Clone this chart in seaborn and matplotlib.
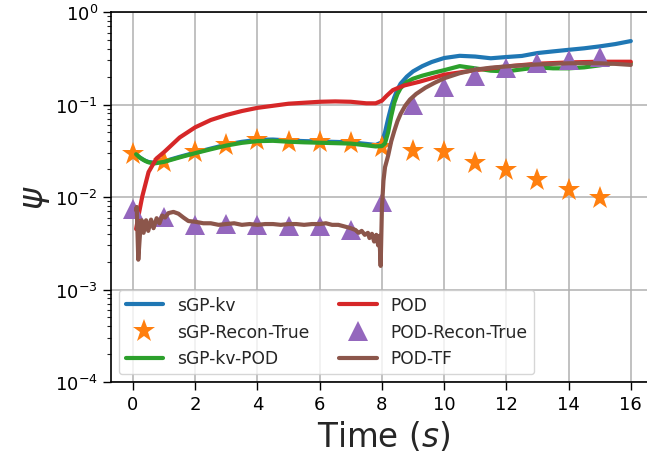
import matplotlib
matplotlib.use("Agg")
import matplotlib.pyplot as plt
import seaborn as sns
import numpy as np

# sGP-kv error history
t_sgp = [0.1, 0.2, 0.3, 0.4, 0.5, 0.7, 1.0, 1.5, 2.0, 2.5, 3.0, 3.5, 4.0, 4.5, 5.0,
         5.5, 6.0, 6.5, 7.0, 7.5, 7.8, 8.0, 8.1, 8.2, 8.3, 8.4, 8.5, 8.6, 8.8, 9.0,
         9.3, 9.6, 10.0, 10.5, 11.0, 11.5, 12.0, 12.5, 13.0, 13.5, 14.0, 14.5, 15.0,
         15.5, 16.0]
sgp_kv = [0.029, 0.027, 0.0257, 0.0246, 0.0239, 0.0234, 0.0243, 0.0272, 0.0302, 0.0334,
          0.0368, 0.0395, 0.0415, 0.0418, 0.0408, 0.0402, 0.0398, 0.0394, 0.0390, 0.0375,
          0.0365, 0.039, 0.05, 0.07, 0.095, 0.12, 0.145, 0.168, 0.2, 0.228, 0.26, 0.288,
          0.318, 0.336, 0.33, 0.316, 0.326, 0.335, 0.36, 0.375, 0.39, 0.405, 0.425, 0.45,
          0.485]

# sGP-kv-POD error history
sgp_kv_pod = [0.029, 0.027, 0.0256, 0.0245, 0.0237, 0.0231, 0.0240, 0.0268, 0.0298, 0.0328,
              0.0360, 0.0385, 0.0402, 0.0405, 0.0396, 0.0390, 0.0386, 0.0382, 0.0378, 0.0362,
              0.0352, 0.0355, 0.038, 0.05, 0.075, 0.105, 0.13, 0.15, 0.175, 0.19, 0.205,
              0.218, 0.235, 0.26, 0.246, 0.232, 0.228, 0.24, 0.252, 0.246, 0.246, 0.252,
              0.265, 0.283, 0.28]

# POD error history
t_pod = [0.1, 0.2, 0.3, 0.5, 0.75, 1.0, 1.5, 2.0, 2.5, 3.0, 3.5, 4.0, 5.0, 6.0, 6.5,
         7.0, 7.5, 7.8, 8.0, 8.15, 8.35, 8.7, 9.2, 10.0, 11.0, 12.0, 13.0, 14.0, 15.0, 16.0]
pod = [0.0045, 0.0069, 0.0102, 0.0186, 0.026, 0.0306, 0.044, 0.0567, 0.068, 0.077, 0.085,
       0.092, 0.102, 0.107, 0.108, 0.107, 0.103, 0.103, 0.110, 0.124, 0.143, 0.16, 0.176,
       0.21, 0.235, 0.258, 0.276, 0.285, 0.29, 0.29]

# POD-TF error history
t_tf = [0.10, 0.12, 0.17, 0.225, 0.28, 0.34, 0.42, 0.49, 0.58, 0.66, 0.76, 0.85, 0.94,
        1.03, 1.14, 1.3, 1.46, 1.62, 1.78, 2.0, 2.26, 2.5, 2.75, 3.0, 3.25, 3.5, 3.75,
        4.0, 4.25, 4.5, 4.75, 5.0, 5.25, 5.5, 5.75, 6.0, 6.2, 6.4, 6.6, 6.8, 7.0, 7.15,
        7.25, 7.35, 7.45, 7.55, 7.6, 7.68, 7.75, 7.82, 7.88, 7.92, 7.96, 8.0, 8.05, 8.1,
        8.2, 8.3, 8.4, 8.5, 8.6, 8.75, 8.9, 9.1, 9.4, 9.7, 10.0, 10.5, 11.0, 11.5, 12.0,
        12.5, 13.0, 13.5, 14.0, 14.5, 15.0, 15.5, 16.0]
pod_tf = [0.0072, 0.0078, 0.0021, 0.0040, 0.0056, 0.0041, 0.0056, 0.0043, 0.0057, 0.0046,
          0.0059, 0.0052, 0.0063, 0.0060, 0.0067, 0.0069, 0.0066, 0.0060, 0.0055, 0.0054,
          0.0052, 0.0052, 0.0050, 0.0051, 0.0052, 0.0050, 0.0051, 0.0050, 0.0051, 0.0051,
          0.0050, 0.0051, 0.0051, 0.0050, 0.0051, 0.0051, 0.0052, 0.0050, 0.0050, 0.0048,
          0.0046, 0.0044, 0.0041, 0.0043, 0.0039, 0.0041, 0.0036, 0.0040, 0.0033, 0.0039,
          0.0030, 0.0038, 0.0018, 0.0075, 0.015, 0.021, 0.028, 0.04, 0.052, 0.066, 0.079,
          0.097, 0.113, 0.13, 0.152, 0.172, 0.192, 0.218, 0.238, 0.25, 0.258, 0.265, 0.271,
          0.275, 0.279, 0.28, 0.279, 0.275, 0.268]

# Reconstruction against truth, sampled once per second
t_recon = [0, 1, 2, 3, 4, 5, 6, 7, 8, 9, 10, 11, 12, 13, 14, 15]
sgp_recon_true = [0.0292, 0.024, 0.0304, 0.0368, 0.0413, 0.0396, 0.039, 0.0383, 0.0344,
                  0.0312, 0.0304, 0.0233, 0.0196, 0.0153, 0.012, 0.0097]
pod_recon_true = [0.0074, 0.0061, 0.0050, 0.0051, 0.0050, 0.0049, 0.0048, 0.0044, 0.0088,
                  0.099, 0.153, 0.205, 0.248, 0.279, 0.303, 0.324]

y_ticks = [1e-4, 1e-3, 1e-2, 1e-1, 1e0]
y_tick_labels = [r"$10^{-4}$", r"$10^{-3}$", r"$10^{-2}$", r"$10^{-1}$", r"$10^{0}$"]
x_ticks = [0, 2, 4, 6, 8, 10, 12, 14, 16]

sns.set_style("ticks")
plt.rcParams["font.family"] = ["DejaVu Sans"]

c_blue, c_orange, c_green, c_red, c_purple, c_brown = sns.color_palette("tab10", 6)

fig = plt.figure(figsize=(6.47, 4.6), dpi=100)
ax = fig.add_axes([111 / 647, 77 / 460, 544.7 / 647, 370 / 460])

lw = 3.0
ms = 15
sns.lineplot(x=t_sgp, y=sgp_kv, color=c_blue, lw=lw, label="sGP-kv", ax=ax,
             estimator=None, sort=False)
sns.lineplot(x=t_recon, y=sgp_recon_true, color=c_orange, marker="*", markersize=ms + 2,
             markeredgewidth=0, linestyle="none", label="sGP-Recon-True", ax=ax,
             estimator=None, sort=False)
sns.lineplot(x=t_sgp, y=sgp_kv_pod, color=c_green, lw=lw, label="sGP-kv-POD", ax=ax,
             estimator=None, sort=False)
sns.lineplot(x=t_pod, y=pod, color=c_red, lw=lw, label="POD", ax=ax,
             estimator=None, sort=False)
sns.lineplot(x=t_recon, y=pod_recon_true, color=c_purple, marker="^", markersize=ms,
             markeredgewidth=0, linestyle="none", label="POD-Recon-True", ax=ax,
             estimator=None, sort=False)
sns.lineplot(x=t_tf, y=pod_tf, color=c_brown, lw=lw, label="POD-TF", ax=ax,
             estimator=None, sort=False)

ax.set_yscale("log")
ax.set_ylim(1e-4, 1e0)
ax.set_xlim(-0.707, 16.8)
ax.set_xticks(x_ticks)
ax.set_xticklabels([str(v) for v in x_ticks])
ax.set_yticks(y_ticks)
ax.set_yticklabels(y_tick_labels)
ax.tick_params(axis="both", which="major", labelsize=13, length=6, width=1, colors="black")
ax.tick_params(axis="y", which="minor", length=3, width=0.8)
ax.grid(True, which="major", color="#b0b0b0", lw=1.1)
for s in ax.spines.values():
    s.set_color("black")
    s.set_linewidth(1.2)

ax.set_xlabel(r"Time ($s$)", fontsize=23.5)
ax.set_ylabel(r"$\psi$", fontsize=24, labelpad=2)

ax.legend(loc="lower left", ncol=2, fontsize=12.3, handlelength=2.2,
          columnspacing=1.75, labelspacing=0.5, framealpha=0.8, edgecolor="#cccccc",
          borderaxespad=0.45)

fig.savefig("out.png", dpi=100)
